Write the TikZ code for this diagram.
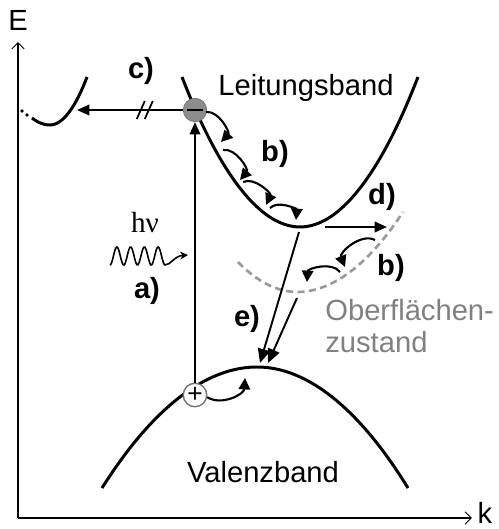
\documentclass[tikz,border=0pt]{standalone}
\usepackage{fontspec}
\setmainfont{Liberation Sans}
\newfontfamily\serifgr{Liberation Serif}
\usetikzlibrary{arrows.meta}

\begin{document}
\begin{tikzpicture}[x=0.02cm, y=0.02cm,
    band/.style={line width=1.7pt},
    axis/.style={line width=0.6pt, -{Straight Barb[length=3.5pt,width=7pt]}},
    jump/.style={line width=1.1pt, -{Triangle[length=7pt,width=6pt]}},
    fall/.style={line width=1.1pt, -{Triangle[length=8pt,width=7pt]}},
    hop/.style={line width=1.2pt, -{Triangle[length=6.5pt,width=6.5pt]}},
    surf/.style={black!40, line width=1.5pt, dash pattern=on 4pt off 2.5pt},
    lbl/.style={font=\bfseries\fontsize{16.6}{19}\selectfont},
    txt/.style={font=\fontsize{16.6}{18.2}\selectfont, inner sep=0}]
  \useasboundingbox (0,0) rectangle (499,529);

  % --- achsen ---
  \coordinate (O) at (18,11);
  \coordinate (Etop) at (18,487);
  \coordinate (kend) at (472,11);
  \draw[axis] (O) -- (Etop);
  \draw[axis] (O) -- (kend);
  \node[txt] (Elabel) at (18,509) {E};
  \node[txt] (klabel) at (485,16) {k};

  % --- baender ---
  \draw[band] (182,452) parabola bend (300,302) (418,452);   % Leitungsband
  \draw[band] (102,41) parabola bend (257,162) (408,41);      % Valenzband
  \draw[band] (32,411) parabola bend (50,404) (87,452);       % Nebental
  \fill (22,418) circle (1pt) (27,414) circle (1pt);
  \draw[surf] (238,267) parabola bend (297,237) (403,317);    % Oberflaechenzustand

  \node[txt, anchor=base] (cbname) at (306,434) {Leitungsband};
  \node[txt, anchor=base] (vbname) at (263,47) {Valenzband};
  \node[txt, anchor=base west, align=left, text=black!50] (ssname) at (325,177) {Oberflächen-\\zustand};

  % --- elektron und loch ---
  \node[circle, fill=black!45, draw=black!55, minimum size=0.47cm, inner sep=0] (elec) at (195,419) {\rule{9pt}{1.4pt}};
  \node[circle, fill=white, draw=black!55, line width=0.8pt, minimum size=0.47cm, inner sep=0] (hole) at (195,134) {\fontsize{15}{15}\selectfont +};

  % --- a) anregung ---
  \draw[jump] (hole) -- (elec);
  \node[font=\serifgr\fontsize{16.6}{19}\selectfont] (hnu) at (145,306) {hν};
  \coordinate (photon) at (188,274);
  \draw[line width=0.9pt, -{Stealth[length=4.5pt,width=4.5pt]}]
    plot[domain=0:4, samples=80, smooth] ({110+13.75*\x}, {273-9*cos(360*\x)})
    .. controls (171,264) and (174,273) .. (photon);
  \node[lbl] (la) at (147,238) {a)};

  % --- c) streuung ins nebental ---
  \coordinate (side) at (77,419);
  \draw[jump] (elec) -- coordinate[pos=0.36] (brk) (side);
  \draw[line width=1pt] (brk) ++(-8,-9) -- ++(8,18) (brk) ++(0,-9) -- ++(8,18);
  \node[lbl] (lc) at (141,458) {c)};

  % --- b) relaxation ---
  \foreach \i/\xa/\ya/\xb/\yb in {1/206/417/221/387, 2/223/379/240/349, 3/243/347/266/324, 4/270/321/296/309}{
    \coordinate (hs\i) at (\xa,\ya);
    \coordinate (he\i) at (\xb,\yb);
    \draw[hop] (hs\i) to[bend left=70] (he\i);
  }
  \node[lbl] (lb1) at (275,375) {b)};
  \coordinate (ss1) at (375,289); \coordinate (se1) at (345,262);
  \coordinate (ss2) at (340,257); \coordinate (se2) at (307,247);
  \draw[hop] (ss1) to[bend right=70] (se1);
  \draw[hop] (ss2) to[bend right=70] (se2);
  \node[lbl] (lb2) at (391,261) {b)};
  \coordinate (hr) at (245,151);
  \draw[hop] (hole.-10) to[bend right=60] (hr);

  % --- d) ---
  \coordinate (ds) at (325,302);
  \coordinate (de) at (387,302);
  \draw[jump] (ds) -- (de);
  \node[lbl] (ld) at (382,332) {d)};

  % --- e) rekombination ---
  \coordinate (es1) at (299,297); \coordinate (ee1) at (260,166);
  \coordinate (es2) at (297,231); \coordinate (ee2) at (268,166);
  \draw[fall] (es1) -- (ee1);
  \draw[fall] (es2) -- (ee2);
  \node[lbl] (le) at (247,210) {e)};
\end{tikzpicture}
\end{document}
